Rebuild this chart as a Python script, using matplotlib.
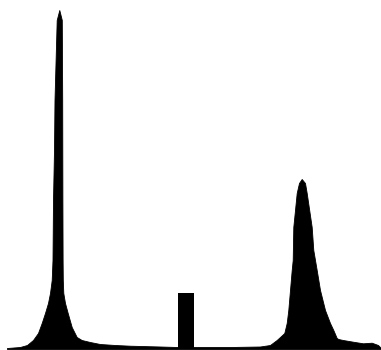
import numpy as np
import matplotlib
matplotlib.use("Agg")
import matplotlib.pyplot as plt

# spectrum trace: channel vs. intensity
channel = [7, 20, 27, 33, 38, 41.7, 45, 48, 50, 51.7, 52.5, 53, 54, 54.5, 56.7,
           59.3, 61.8, 62.2, 62.4, 62.6, 62.8, 63.3, 65, 67.7, 71.7, 76.7, 81.7,
           90, 100, 115, 130, 160, 177, 195, 230, 260, 270, 276.7, 280, 284.3,
           286.7, 288.3, 290, 291.7, 292.7, 293.3, 296.7, 299, 301.7, 305, 306.7,
           311.7, 313.3, 316.7, 320, 325, 330, 333.3, 336.7, 338.3, 343, 353,
           363, 371.7, 378, 381]
intensity = [1, 2, 4, 9, 16, 26, 36, 46, 56, 69, 89, 149, 199, 249, 329,
             339, 329, 249, 149, 89, 69, 56, 46, 36, 22, 12, 9,
             7, 5, 4, 3.3, 2.5, 2, 2, 2, 2.5, 4, 9, 12, 16,
             26, 39, 59, 79, 89, 122, 156, 166, 170, 166, 156,
             122, 99, 79, 59, 39, 26, 19, 11, 10, 9, 7.3,
             5.7, 6.3, 4, 1]

# marker block
block_center = 186
block_width = 16.6
block_height = 55.7

fig = plt.figure(figsize=(3.81, 3.5), dpi=100)
ax = fig.add_axes([0, 0, 1, 1])

x = np.array(channel)
y = np.array(intensity)
ax.fill_between(x, 0, y, color="black", linewidth=0.6, edgecolor="black")
ax.bar(block_center, block_height, width=block_width, color="black")

ax.set_xlim(0, 381)
ax.set_ylim(-1, 349)
ax.axis("off")

fig.savefig("out.png", dpi=100, facecolor="white")
